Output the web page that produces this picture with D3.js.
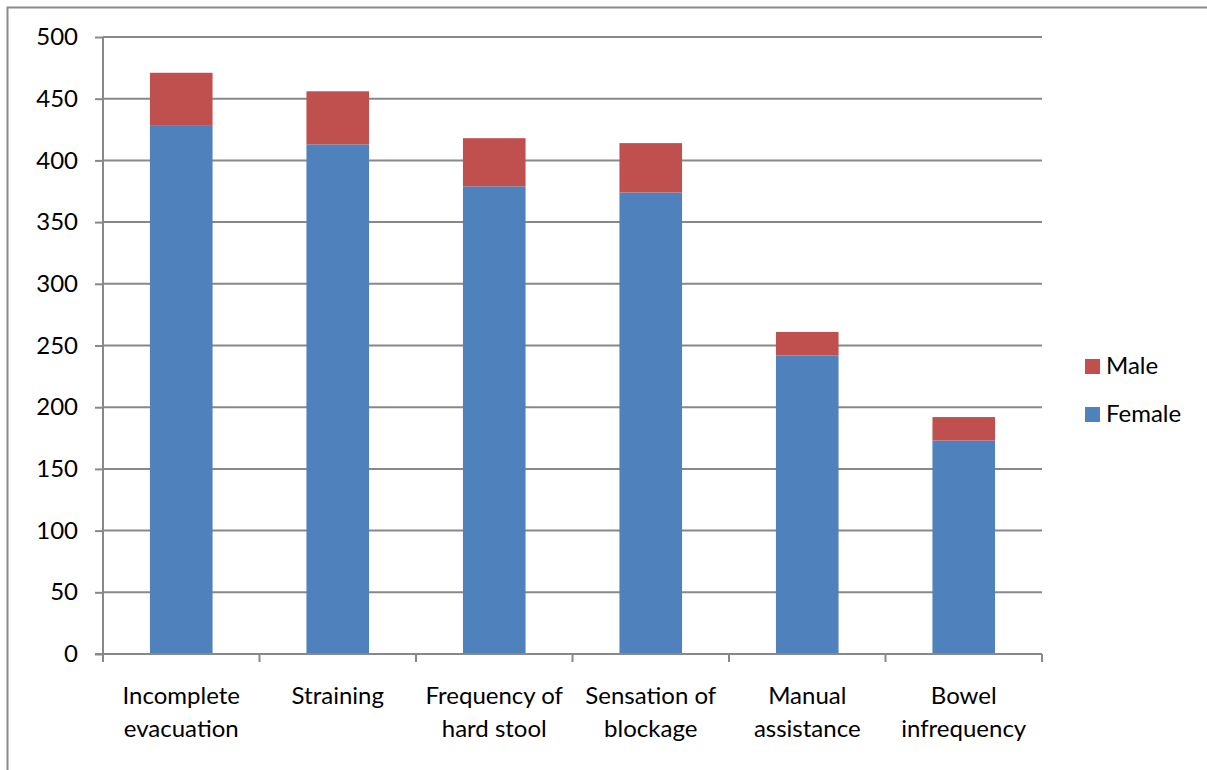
<!DOCTYPE html>
<html><head><meta charset="utf-8">
<script src="https://cdn.jsdelivr.net/npm/d3@7"></script>
<style>body{margin:0;background:#fff}svg{display:block}</style>
</head><body>
<svg id="c" width="1207" height="770"></svg>
<script>
const categories = [["Incomplete","evacuation"],["Straining"],["Frequency of","hard stool"],["Sensation of","blockage"],["Manual","assistance"],["Bowel","infrequency"]];
const female = [428, 413, 379, 374, 242, 173];
const male = [43, 43, 39, 40, 19, 19];
const yTicks = [0,50,100,150,200,250,300,350,400,450,500];
const seriesNames = ["Female","Male"];
const colors = {Female:"#4F81BD", Male:"#C0504D"};

(function(){
const svg = d3.select("#c");
const font = "Lato, 'Open Sans', sans-serif";
const fs = 24;
const pLeft = 103, pRight = 1042, pTop = 37, pBottom = 654;

svg.append("rect").attr("x",7.5).attr("y",7.5).attr("width",1300).attr("height",900)
  .attr("fill","none").attr("stroke","#8c8c8c").attr("stroke-width",2);

const keys = categories.map(c => c.join(" "));
const x = d3.scaleBand().domain(keys).range([pLeft, pRight]);
const y = d3.scaleLinear().domain([0,500]).range([pBottom, pTop]);

svg.append("g").selectAll("line").data(yTicks.filter(t=>t>0)).join("line")
  .attr("x1",pLeft).attr("x2",pRight).attr("y1",d=>y(d)).attr("y2",d=>y(d))
  .attr("stroke","#888").attr("stroke-width",2);

const rows = keys.map((k,i)=>({key:k, Female:female[i], Male:male[i]}));
const stack = d3.stack().keys(seriesNames)(rows);
const bw = x.bandwidth()*0.4;
svg.append("g").selectAll("g").data(stack).join("g").attr("fill",d=>colors[d.key])
  .selectAll("rect").data(d=>d).join("rect")
  .attr("x",d=>x(d.data.key)+x.bandwidth()/2-bw/2).attr("width",bw)
  .attr("y",d=>y(d[1])).attr("height",d=>y(d[0])-y(d[1]));

const ya = svg.append("g").attr("transform",`translate(${pLeft},0)`)
  .call(d3.axisLeft(y).tickValues(yTicks).tickSize(8).tickPadding(17).tickFormat(d3.format("d")));
ya.select(".domain").attr("stroke","#888").attr("stroke-width",2).attr("d",`M0,${pBottom}V${pTop}`);
ya.selectAll(".tick line").attr("stroke","#888").attr("stroke-width",2);
ya.selectAll("text").attr("font-family",font).attr("font-size",fs).attr("fill","#000");

const xa = svg.append("g").attr("transform",`translate(0,${pBottom})`)
  .call(d3.axisBottom(x).tickSize(0).tickFormat(""));
xa.select(".domain").attr("stroke","#888").attr("stroke-width",2).attr("d",`M${pLeft-8},0H${pRight}`);
const bounds = keys.map(k=>x(k)).concat([pRight]);
xa.selectAll(".xt").data(bounds).join("line").attr("class","xt")
  .attr("x1",d=>d).attr("x2",d=>d).attr("y1",0).attr("y2",8).attr("stroke","#888").attr("stroke-width",2);
const lbl = svg.append("g").selectAll("text").data(categories).join("text")
  .attr("x",(d,i)=>x(keys[i])+x.bandwidth()/2).attr("y",704)
  .attr("text-anchor","middle").attr("font-family",font).attr("font-size",fs).attr("fill","#000");
lbl.each(function(d){
  const cx = d3.select(this).attr("x");
  d3.select(this).selectAll("tspan").data(d).join("tspan")
    .attr("x",cx).attr("dy",(t,j)=>j===0?0:33).text(t=>t);
});

const legend = [["Male",366],["Female",414]];
const lg = svg.append("g").selectAll("g").data(legend).join("g");
lg.append("rect").attr("x",1085).attr("y",d=>d[1]-7).attr("width",15).attr("height",15)
  .attr("fill",d=>colors[d[0]]);
lg.append("text").attr("x",1106).attr("y",d=>d[1]+8).text(d=>d[0])
  .attr("font-family",font).attr("font-size",fs).attr("fill","#000");
})();
</script>
</body></html>
